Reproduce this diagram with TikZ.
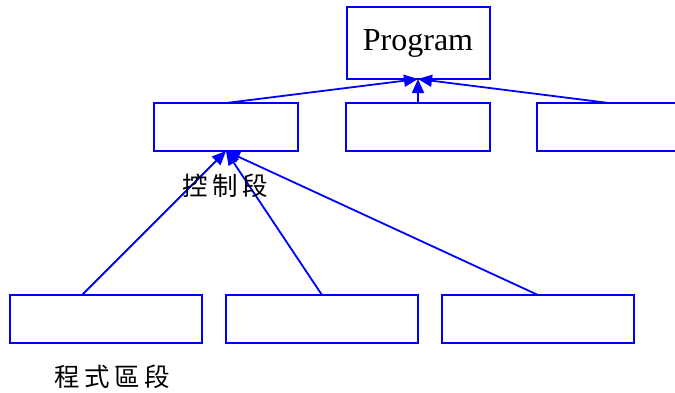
\documentclass[tikz,border=0pt]{standalone}
\usepackage{fontspec}
\setmainfont{Liberation Serif}
\newfontfamily\cjk[LetterSpace=18]{Noto Sans CJK TC}
\usetikzlibrary{arrows.meta}
\definecolor{lineblue}{RGB}{0,0,255}
\begin{document}
\begin{tikzpicture}[x=1pt,y=-1pt,
  boxw/.style={draw=lineblue,line width=2pt,fill=white,inner sep=0pt,outer sep=0pt},
  link/.style={draw=lineblue,line width=1.8pt,-{Triangle[length=14pt,width=12pt]}},
  lbl/.style={font=\cjk\fontsize{25.5}{27}\selectfont,inner sep=0pt}]
\useasboundingbox (0,0) rectangle (675,392);
\node[boxw,minimum width=143pt,minimum height=72pt,font=\fontsize{32}{34}\selectfont] (prog) at (418,43) {Program};
\node[boxw,minimum width=144pt,minimum height=48pt] (m1) at (226,127) {};
\node[boxw,minimum width=144pt,minimum height=48pt] (m2) at (418,127) {};
\node[boxw,minimum width=144pt,minimum height=48pt] (m3) at (609,127) {};
\node[boxw,minimum width=192pt,minimum height=48pt] (b1) at (106,319) {};
\node[boxw,minimum width=192pt,minimum height=48pt] (b2) at (322,319) {};
\node[boxw,minimum width=192pt,minimum height=48pt] (b3) at (538,319) {};
\coordinate (pin) at (prog.south);
\coordinate (m1in) at (m1.south);
\coordinate (b1top) at (82,295);
\draw[link] (m1.north) -- (pin);
\draw[link] (m2.north) -- (pin);
\draw[link] (m3.north) -- (pin);
\draw[link] (b1top) -- (m1in);
\draw[link] (b2.north) -- (m1in);
\draw[link] (b3.north) -- (m1in);
\node[lbl] (t1) at (225,186) {控制段};
\node[lbl] (t2) at (112,377) {程式區段};
\end{tikzpicture}
\end{document}
